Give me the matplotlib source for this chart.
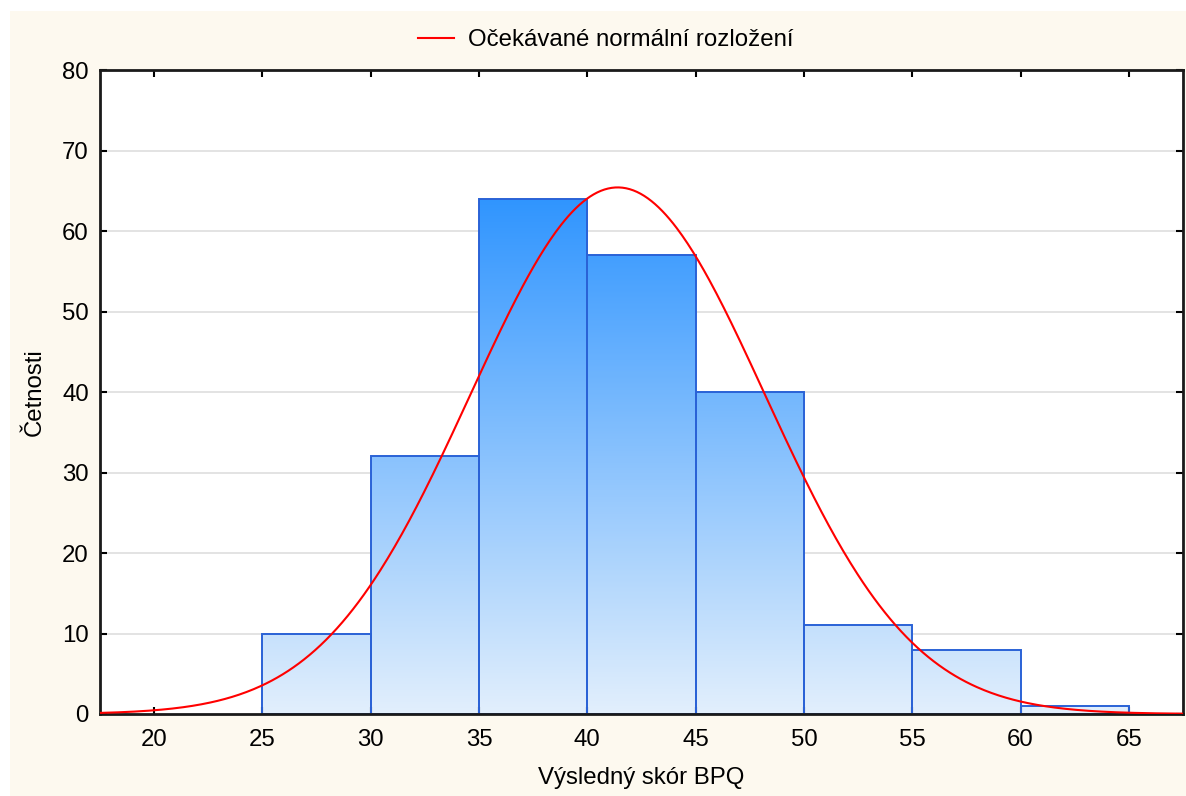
import numpy as np
import matplotlib
matplotlib.use("Agg")
import matplotlib.pyplot as plt
from matplotlib.colors import LinearSegmentedColormap
from matplotlib.patches import Rectangle
from matplotlib.lines import Line2D

plt.rcParams['font.family'] = ['Liberation Sans', 'DejaVu Sans']

# Histogram of the BPQ total score (class width 5)
bin_edges = [25, 30, 35, 40, 45, 50, 55, 60, 65]
counts = [10, 32, 64, 57, 40, 11, 8, 1]

# Expected normal distribution parameters
score_mean = 41.4
score_sd = 6.8

x_ticks = [20, 25, 30, 35, 40, 45, 50, 55, 60, 65]
y_ticks = [0, 10, 20, 30, 40, 50, 60, 70, 80]

legend_label = "Očekávané normální rozložení"
x_label = "Výsledný skór BPQ"
y_label = "Četnosti"

FS = 17.3

fig = plt.figure(figsize=(11.86, 7.96), dpi=100)
fig.patch.set_facecolor("white")
fig.add_artist(Rectangle((10 / 1186, 0), 1 - 10 / 1186, 1 - 11 / 796,
                         transform=fig.transFigure, facecolor="#fdf9ef",
                         edgecolor="none", zorder=-10))

ax = fig.add_axes([100 / 1186, 1 - 714 / 796, (1183 - 100) / 1186, (714 - 70) / 796])
ax.set_facecolor("white")
ax.set_xlim(17.5, 67.5)
ax.set_ylim(0, 80)

# horizontal grid
for yv in y_ticks[1:-1]:
    ax.axhline(yv, color="#dedede", lw=1.2, zorder=0)

# bars with a vertical gradient tied to absolute height
cmap = LinearSegmentedColormap.from_list("bpq", ["#e2effc", "#3095ff"])
top = max(counts)
for i, c in enumerate(counts):
    x0, x1 = bin_edges[i], bin_edges[i + 1]
    grad = np.linspace(0, c, 256).reshape(-1, 1)
    im = ax.imshow(grad, cmap=cmap, vmin=0, vmax=top, aspect="auto",
                   origin="lower", extent=(x0, x1, 0, c), zorder=1,
                   interpolation="bilinear")
    rect = Rectangle((x0, 0), x1 - x0, c, facecolor="none",
                     edgecolor="#2a62d6", lw=1.4, zorder=2)
    ax.add_patch(rect)
    im.set_clip_path(rect)

# expected normal curve scaled to counts
n_total = sum(counts)
width = bin_edges[1] - bin_edges[0]
xs = np.linspace(17.5, 67.5, 600)
ys = n_total * width / (score_sd * np.sqrt(2 * np.pi)) * np.exp(-0.5 * ((xs - score_mean) / score_sd) ** 2)
ax.plot(xs, ys, color="#ff0000", lw=1.5, zorder=3, clip_on=True)

ax.set_xticks(x_ticks)
ax.set_yticks(y_ticks)
ax.tick_params(direction="in", length=5, width=1.5, top=True, right=True,
               labelsize=FS, colors="black", pad=11)
ax.tick_params(axis="y", pad=8)
for s in ax.spines.values():
    s.set_linewidth(2)
    s.set_color("#1a1a1a")

ax.set_xlabel(x_label, fontsize=FS, labelpad=11)
ax.set_ylabel(y_label, fontsize=FS, labelpad=12)

handle = Line2D([], [], color="#ff0000", lw=1.5)
fig.legend([handle], [legend_label], loc="center", bbox_to_anchor=(606 / 1186, 1 - 40 / 796),
           frameon=False, fontsize=FS, handlelength=1.5, handletextpad=0.6)

fig.savefig("out.png", dpi=100)
